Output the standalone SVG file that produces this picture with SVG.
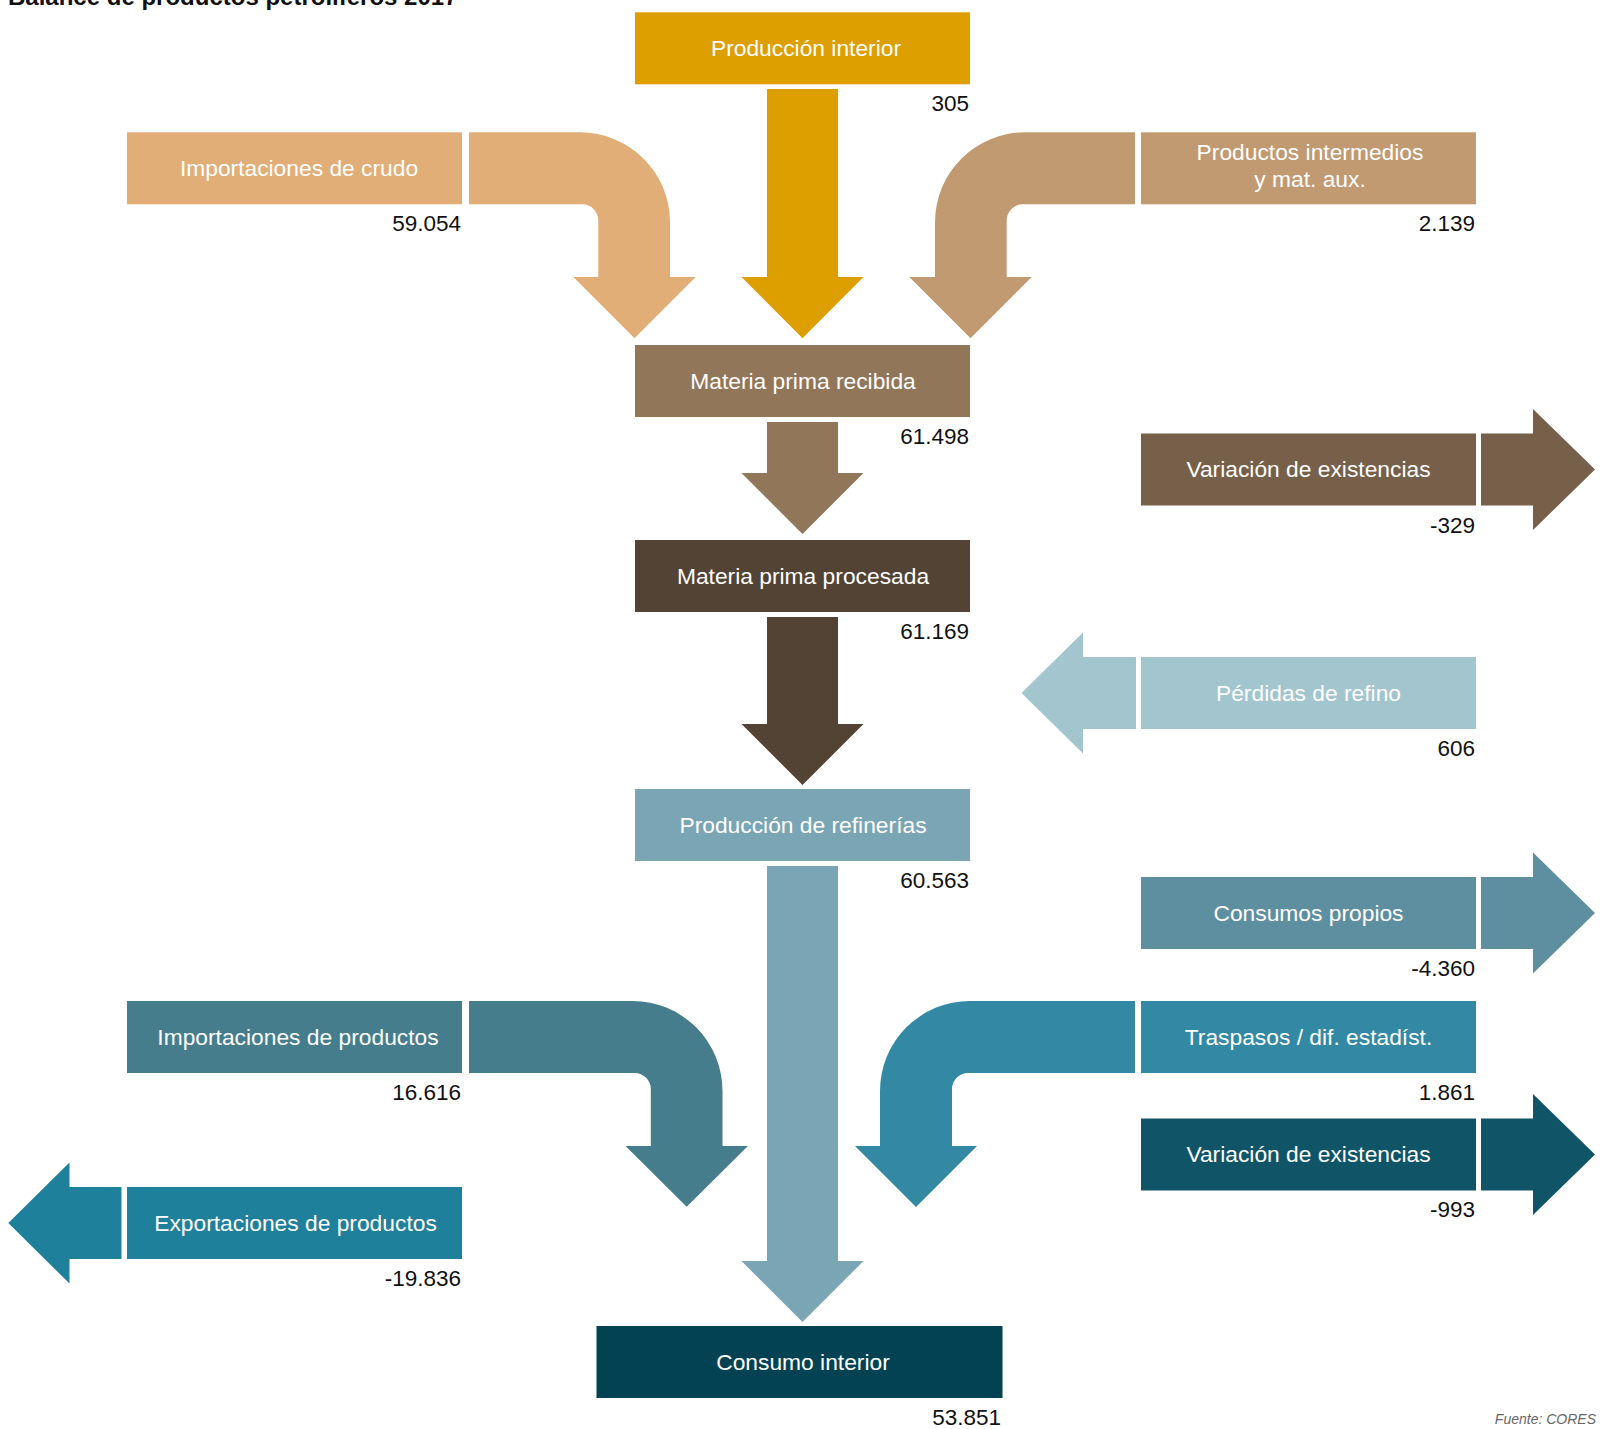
<svg xmlns="http://www.w3.org/2000/svg" width="1607" height="1429" viewBox="0 0 1607 1429">
<style>
  .lbl { font-family: "Liberation Sans", Arial, sans-serif; font-size: 22.8px; fill: #ffffff; text-anchor: middle; }
  .val { font-family: "Liberation Sans", Arial, sans-serif; font-size: 22.5px; fill: #111111; text-anchor: end; }
  .title { font-family: "Liberation Sans", Arial, sans-serif; font-size: 24px; font-weight: bold; fill: #111111; }
  .src { font-family: "Liberation Sans", Arial, sans-serif; font-size: 14px; font-style: italic; fill: #666666; text-anchor: end; }
  .c-prodint { fill: #DD9E00; }
  .c-crudo { fill: #E1AE78; }
  .c-inter { fill: #C19A72; }
  .c-recib { fill: #917659; }
  .c-var1 { fill: #77604A; }
  .c-proc { fill: #524334; }
  .c-perd { fill: #A2C5CE; }
  .c-refin { fill: #7AA5B4; }
  .c-cons { fill: #5E8FA0; }
  .c-impp { fill: #457D8C; }
  .c-trasp { fill: #3389A3; }
  .c-var2 { fill: #0F5567; }
  .c-exp { fill: #1F809B; }
  .c-consint { fill: #024253; }
</style>
<rect x="0" y="0" width="1607" height="1429" fill="#ffffff"/>
<text class="title" x="8" y="5">Balance de productos petrolíferos 2017</text>

<g id="connectors">
  <path class="c-crudo" d="M469,132.3 H580 A90,90 0 0 1 670,222.3 V277 H695.7 L634.5,338.3 L573.3,277 H598.3 V220 A16,16 0 0 0 582.3,204.3 H469 Z"/>
  <path class="c-prodint" d="M767,89 H838 V277 H863.5 L802.5,338.3 L741.5,277 H767 Z"/>
  <path class="c-inter" d="M1135,132.3 H1025 A90,90 0 0 0 935,222.3 V277 H909.3 L970.5,338.3 L1031.7,277 H1006.7 V220 A16,16 0 0 1 1022.7,204.3 H1135 Z"/>
  <path class="c-recib" d="M767,422 H838 V473 H863.5 L802.5,534 L741.5,473 H767 Z"/>
  <path class="c-var1" d="M1481,433.5 H1533 V409 L1595,469.5 L1533,530 V505.5 H1481 Z"/>
  <path class="c-proc" d="M767,617 H838 V724 H863.5 L802.5,785 L741.5,724 H767 Z"/>
  <path class="c-perd" d="M1136,657 H1083 V632.5 L1021.5,693 L1083,753.5 V729 H1136 Z"/>
  <path class="c-refin" d="M767,866 H838 V1261 H863.5 L802.5,1322 L741.5,1261 H767 Z"/>
  <path class="c-cons" d="M1481,877 H1533 V852.5 L1595,913 L1533,973.5 V949 H1481 Z"/>
  <path class="c-impp" d="M469,1001 H632.5 A90,90 0 0 1 722.5,1091 V1146 H747.9 L686.7,1206.7 L625.5,1146 H650.8 V1089 A16,16 0 0 0 634.8,1073 H469 Z"/>
  <path class="c-trasp" d="M1135,1001 H970 A90,90 0 0 0 880,1091 V1146 H855 L916,1207 L977,1146 H952 V1089 A16,16 0 0 1 968,1073 H1135 Z"/>
  <path class="c-var2" d="M1481,1118.5 H1533 V1094 L1595,1154.5 L1533,1215 V1190.5 H1481 Z"/>
  <path class="c-exp" d="M121.5,1187 H69.5 V1162.5 L8.3,1223 L69.5,1283.5 V1259 H121.5 Z"/>
</g>

<g id="produccion-interior">
  <rect class="c-prodint" x="635" y="12.3" width="335" height="72"/>
  <text class="lbl" x="806" y="55.5">Producción interior</text>
  <text class="val" x="969" y="111">305</text>
</g>
<g id="importaciones-crudo">
  <rect class="c-crudo" x="127" y="132.3" width="335" height="72"/>
  <text class="lbl" x="299" y="175.5">Importaciones de crudo</text>
  <text class="val" x="461" y="231">59.054</text>
</g>
<g id="productos-intermedios">
  <rect class="c-inter" x="1141" y="132.3" width="335" height="72"/>
  <text class="lbl" x="1310" y="160">Productos intermedios</text>
  <text class="lbl" x="1310" y="186.5">y mat. aux.</text>
  <text class="val" x="1475" y="231">2.139</text>
</g>
<g id="materia-prima-recibida">
  <rect class="c-recib" x="635" y="345" width="335" height="72"/>
  <text class="lbl" x="803" y="388.5">Materia prima recibida</text>
  <text class="val" x="969" y="443.5">61.498</text>
</g>
<g id="variacion-existencias-1">
  <rect class="c-var1" x="1141" y="433.5" width="335" height="72"/>
  <text class="lbl" x="1308.5" y="477">Variación de existencias</text>
  <text class="val" x="1475" y="532.5">-329</text>
</g>
<g id="materia-prima-procesada">
  <rect class="c-proc" x="635" y="540" width="335" height="72"/>
  <text class="lbl" x="803" y="583.5">Materia prima procesada</text>
  <text class="val" x="969" y="638.5">61.169</text>
</g>
<g id="perdidas-refino">
  <rect class="c-perd" x="1141" y="657" width="335" height="72"/>
  <text class="lbl" x="1308.5" y="700.5">Pérdidas de refino</text>
  <text class="val" x="1475" y="756">606</text>
</g>
<g id="produccion-refinerias">
  <rect class="c-refin" x="635" y="789" width="335" height="72"/>
  <text class="lbl" x="803" y="832.5">Producción de refinerías</text>
  <text class="val" x="969" y="887.5">60.563</text>
</g>
<g id="consumos-propios">
  <rect class="c-cons" x="1141" y="877" width="335" height="72"/>
  <text class="lbl" x="1308.5" y="920.5">Consumos propios</text>
  <text class="val" x="1475" y="975.5">-4.360</text>
</g>
<g id="importaciones-productos">
  <rect class="c-impp" x="127" y="1001" width="335" height="72"/>
  <text class="lbl" x="298" y="1044.5">Importaciones de productos</text>
  <text class="val" x="461" y="1099.5">16.616</text>
</g>
<g id="traspasos">
  <rect class="c-trasp" x="1141" y="1001" width="335" height="72"/>
  <text class="lbl" x="1308.5" y="1044.5">Traspasos / dif. estadíst.</text>
  <text class="val" x="1475" y="1100">1.861</text>
</g>
<g id="variacion-existencias-2">
  <rect class="c-var2" x="1141" y="1118.5" width="335" height="72"/>
  <text class="lbl" x="1308.5" y="1162">Variación de existencias</text>
  <text class="val" x="1475" y="1217">-993</text>
</g>
<g id="exportaciones-productos">
  <rect class="c-exp" x="127" y="1187" width="335" height="72"/>
  <text class="lbl" x="295.5" y="1230.5">Exportaciones de productos</text>
  <text class="val" x="461" y="1285.5">-19.836</text>
</g>
<g id="consumo-interior">
  <rect class="c-consint" x="596.5" y="1326" width="406" height="72"/>
  <text class="lbl" x="803" y="1369.5">Consumo interior</text>
  <text class="val" x="1001" y="1424.5">53.851</text>
</g>
<text class="src" x="1596" y="1424">Fuente: CORES</text>
</svg>
